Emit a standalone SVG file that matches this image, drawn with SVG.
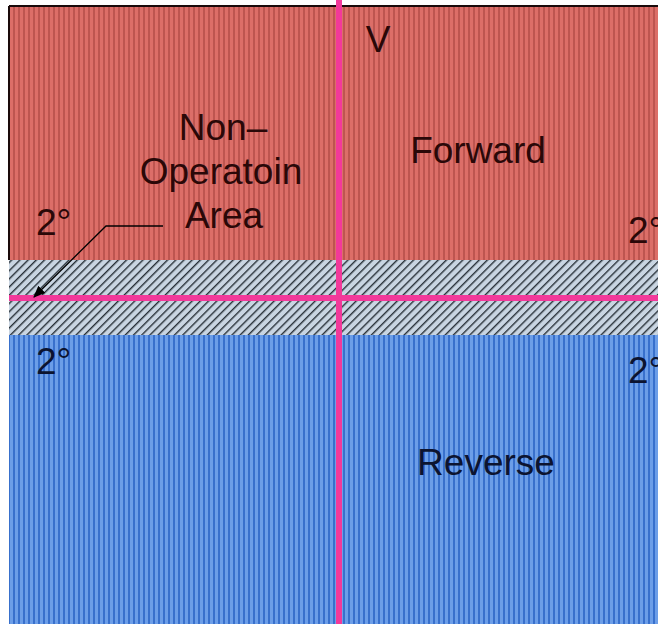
<svg xmlns="http://www.w3.org/2000/svg" width="658" height="624" viewBox="0 0 658 624">
<style>
.t{font-family:"Liberation Sans",Arial,sans-serif;font-size:37px;fill:#2a0808}
.tb{font-family:"Liberation Sans",Arial,sans-serif;font-size:37px;fill:#0c1430}
.pink{fill:#f2399a}
</style>
<defs>
<pattern id="red" width="5" height="10" patternUnits="userSpaceOnUse">
<rect width="5" height="10" fill="#dc6e68"/>
<rect x="3" width="2" height="10" fill="#bd5550"/>
</pattern>
<pattern id="blue" width="5" height="10" patternUnits="userSpaceOnUse">
<rect width="5" height="10" fill="#6c9ee8"/>
<rect x="3" width="2" height="10" fill="#3870cc"/>
</pattern>
<pattern id="hatch" width="5.8" height="8" patternUnits="userSpaceOnUse" patternTransform="rotate(45)">
<rect width="5.8" height="8" fill="#c9d5e2"/>
<rect x="0" width="1.4" height="8" fill="#283038"/>
</pattern>
<marker id="arr" markerWidth="12" markerHeight="10" refX="11" refY="5" orient="auto" markerUnits="userSpaceOnUse">
<path d="M0,0 L12,5 L0,10 Z" fill="#000"/>
</marker>
</defs>
<rect width="658" height="624" fill="#fff"/>
<g id="region-forward">
<rect x="9" y="6" width="649" height="254" fill="url(#red)"/>
</g>
<g id="region-nonop">
<rect x="9" y="260" width="649" height="75" fill="url(#hatch)"/>
</g>
<g id="region-reverse">
<rect x="9" y="335" width="649" height="289" fill="url(#blue)"/>
</g>
<g id="borders">
<line x1="9" y1="6" x2="658" y2="6" stroke="#1a0a0a" stroke-width="2"/>
<line x1="9" y1="6" x2="9" y2="260" stroke="#1a0a0a" stroke-width="2"/>
</g>
<g id="axes">
<rect class="pink" x="336" y="0" width="6" height="624"/>
<rect class="pink" x="9" y="295" width="649" height="6"/>
</g>
<g id="labels">
<text class="t" x="378" y="52" text-anchor="middle">V</text>
<text class="t" x="223" y="140" text-anchor="middle">Non–</text>
<text class="t" x="221" y="184" text-anchor="middle">Operatoin</text>
<text class="t" x="224" y="228" text-anchor="middle">Area</text>
<text class="t" x="478" y="163" text-anchor="middle">Forward</text>
<text class="tb" x="486" y="475" text-anchor="middle">Reverse</text>
<text class="t" x="36" y="235">2°</text>
<text class="t" x="628" y="243">2°</text>
<text class="tb" x="36" y="374">2°</text>
<text class="tb" x="628" y="383">2°</text>
</g>
<g id="connectors">
<polyline points="163,226 106,226 34,297" fill="none" stroke="#000" stroke-width="1.3" marker-end="url(#arr)"/>
</g>
</svg>
